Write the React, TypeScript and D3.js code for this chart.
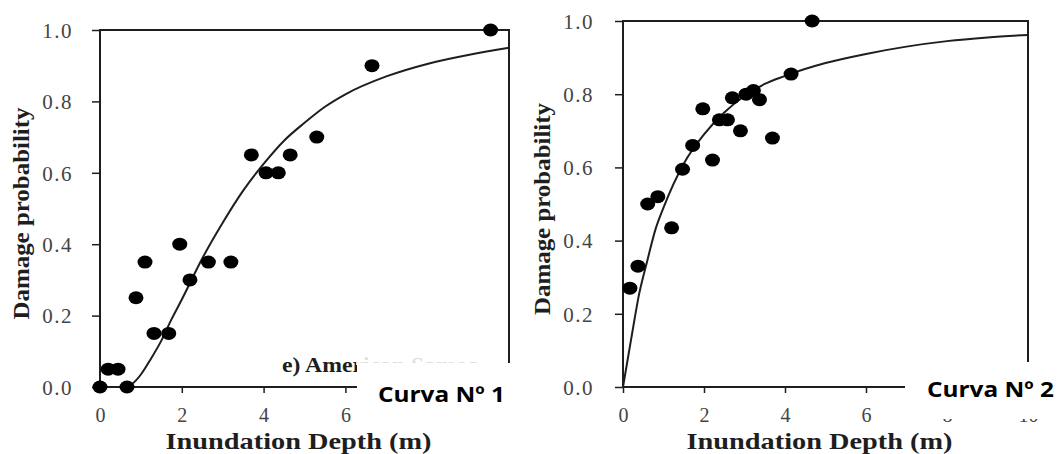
import React, { useRef, useEffect } from 'react';
import * as d3 from 'd3';

const xTicks = [0, 2, 4, 6, 8, 10];
const yTicks = [0, 0.2, 0.4, 0.6, 0.8, 1.0];

// Curva Nº 1 - observed points
const obs1Depth = [0, 0.2, 0.44, 0.66, 0.88, 1.1, 1.32, 1.68, 1.95, 2.2, 2.65, 3.2, 3.7, 4.06, 4.36, 4.65, 5.3, 6.65, 9.55];
const obs1Prob = [0, 0.05, 0.05, 0, 0.25, 0.35, 0.15, 0.15, 0.4, 0.3, 0.35, 0.35, 0.65, 0.6, 0.6, 0.65, 0.7, 0.9, 1.0];

// Curva Nº 1 - fitted curve
const fit1Depth = [0, 0.6, 0.8, 1.0, 1.25, 1.5, 1.75, 2.0, 2.5, 3.0, 3.5, 4.0, 4.5, 5.0, 5.5, 6.0, 7.0, 8.0, 9.0, 10];
const fit1Prob = [0, 0, 0.01, 0.035, 0.08, 0.13, 0.19, 0.245, 0.36, 0.46, 0.55, 0.625, 0.69, 0.74, 0.785, 0.82, 0.87, 0.905, 0.93, 0.95];

// Curva Nº 2 - observed points
const obs2Depth = [0.17, 0.37, 0.61, 0.86, 1.2, 1.47, 1.72, 1.97, 2.21, 2.38, 2.58, 2.7, 2.9, 3.04, 3.22, 3.37, 3.69, 4.15, 4.67];
const obs2Prob = [0.27, 0.33, 0.5, 0.52, 0.435, 0.595, 0.66, 0.76, 0.62, 0.73, 0.73, 0.79, 0.7, 0.8, 0.81, 0.785, 0.68, 0.855, 1.0];

// Curva Nº 2 - fitted curve
const fit2Depth = [0, 0.2, 0.4, 0.6, 0.8, 1.0, 1.5, 2.0, 2.5, 3.0, 3.5, 4.0, 5.0, 6.0, 7.0, 8.0, 9.0, 10];
const fit2Prob = [0, 0.13, 0.255, 0.345, 0.43, 0.49, 0.61, 0.69, 0.75, 0.795, 0.828, 0.85, 0.885, 0.91, 0.93, 0.945, 0.955, 0.962];

const width = 1059;
const height = 454;
const serif = '"Liberation Serif", "Times New Roman", serif';
const ink = '#1e1e1e';

type Panel = {
  x0: number; x1: number; yTop: number; yBot: number;
  ylabelX: number; tickLabelX: number;
  obsX: number[]; obsY: number[]; fitX: number[]; fitY: number[];
  box: { x: number; y: number; w: number; h: number };
  title: string; titleX: number; titleY: number;
};

const panels: Panel[] = [
  {
    x0: 100, x1: 509, yTop: 30, yBot: 387, ylabelX: 29, tickLabelX: 73,
    obsX: obs1Depth, obsY: obs1Prob, fitX: fit1Depth, fitY: fit1Prob,
    box: { x: 357, y: 363, w: 172, h: 64 },
    title: 'Curva Nº 1', titleX: 378, titleY: 402,
  },
  {
    x0: 623, x1: 1028, yTop: 21, yBot: 387, ylabelX: 550, tickLabelX: 594,
    obsX: obs2Depth, obsY: obs2Prob, fitX: fit2Depth, fitY: fit2Prob,
    box: { x: 905, y: 362, w: 154, h: 57 },
    title: 'Curva Nº 2', titleX: 927, titleY: 397,
  },
];

const App: React.FC = () => {
  const svgRef = useRef<SVGSVGElement | null>(null);

  useEffect(() => {
    if (!svgRef.current) return;
    d3.select(svgRef.current).selectAll('*').remove();

    const svg = d3.select(svgRef.current).attr('width', width).attr('height', height);
    svg.append('rect').attr('width', width).attr('height', height).attr('fill', '#fff');

    panels.forEach((p, i) => {
      const x = d3.scaleLinear().domain([0, 10]).range([p.x0, p.x1]);
      const y = d3.scaleLinear().domain([0, 1]).range([p.yBot, p.yTop]);
      const g = svg.append('g');

      // frame
      g.append('rect')
        .attr('x', p.x0).attr('y', p.yTop)
        .attr('width', p.x1 - p.x0).attr('height', p.yBot - p.yTop)
        .attr('fill', 'none').attr('stroke', ink).attr('stroke-width', 2);

      // y axis
      const yAxis = d3.axisLeft(y).tickValues(yTicks).tickSize(8).tickFormat(d3.format('.1f'));
      const ya = g.append('g').attr('transform', `translate(${p.x0},0)`).call(yAxis);
      ya.select('.domain').remove();
      ya.selectAll('line').attr('stroke', ink).attr('stroke-width', 1.5);
      ya.selectAll('text')
        .attr('x', p.tickLabelX - p.x0).attr('dy', '0.35em')
        .attr('font-family', serif).attr('font-size', 21).attr('fill', '#444')
        .attr('letter-spacing', 1.5);

      // x axis
      const xAxis = d3.axisBottom(x).tickValues(xTicks).tickSize(6).tickFormat(d3.format('d'));
      const xa = g.append('g').attr('transform', `translate(0,${p.yBot})`).call(xAxis);
      xa.select('.domain').remove();
      xa.selectAll('line').attr('stroke', ink).attr('stroke-width', 1.5);
      xa.selectAll('text')
        .attr('y', 35).attr('dy', 0)
        .attr('font-family', serif).attr('font-size', 20).attr('fill', '#444');

      // axis titles
      g.append('text')
        .attr('x', (p.x0 + p.x1) / 2 - 6).attr('y', 449)
        .attr('text-anchor', 'middle')
        .attr('font-family', serif).attr('font-weight', 'bold').attr('font-size', 24)
        .attr('textLength', 266).attr('lengthAdjust', 'spacingAndGlyphs')
        .attr('fill', ink)
        .text('Inundation Depth (m)');

      g.append('text')
        .attr('transform', `translate(${p.ylabelX},${(p.yTop + p.yBot) / 2 + 5}) rotate(-90)`)
        .attr('text-anchor', 'middle')
        .attr('font-family', serif).attr('font-weight', 'bold').attr('font-size', 24)
        .attr('textLength', 212).attr('lengthAdjust', 'spacingAndGlyphs')
        .attr('fill', ink)
        .text('Damage probability');

      // fitted curve
      const line = d3.line<number>()
        .x((d) => x(p.fitX[d]))
        .y((d) => y(p.fitY[d]))
        .curve(d3.curveMonotoneX);
      g.append('path')
        .attr('d', line(d3.range(p.fitX.length)))
        .attr('fill', 'none').attr('stroke', ink).attr('stroke-width', 2);

      // observations
      g.selectAll('ellipse.obs')
        .data(d3.range(p.obsX.length))
        .join('ellipse')
        .attr('class', 'obs')
        .attr('cx', (d) => x(p.obsX[d]))
        .attr('cy', (d) => y(p.obsY[d]))
        .attr('rx', 7.5).attr('ry', 6.5)
        .attr('fill', '#000');

      // partly hidden legend text of the original figure
      if (i === 0) {
        g.append('text')
          .attr('transform', 'translate(282,372) scale(1.13,1)')
          .attr('font-family', serif).attr('font-weight', 'bold').attr('font-size', 21)
          .attr('fill', ink)
          .text('e) American Samoa');
        g.append('rect')
          .attr('x', 356).attr('y', 345).attr('width', 150).attr('height', 20)
          .attr('fill', '#fff').attr('opacity', 0.85);
      }

      // white label box
      g.append('rect')
        .attr('x', p.box.x).attr('y', p.box.y)
        .attr('width', p.box.w).attr('height', p.box.h)
        .attr('fill', '#fff');
      g.append('text')
        .attr('x', p.titleX).attr('y', p.titleY)
        .attr('font-family', '"Open Sans", "Noto Sans", sans-serif')
        .attr('font-weight', 'bold').attr('font-size', 22)
        .attr('textLength', 127).attr('lengthAdjust', 'spacingAndGlyphs')
        .attr('fill', '#000')
        .text(p.title);
    });
  }, []);

  return <svg ref={svgRef} style={{ position: 'absolute', left: 0, top: 0 }}></svg>;
};

export default App;
